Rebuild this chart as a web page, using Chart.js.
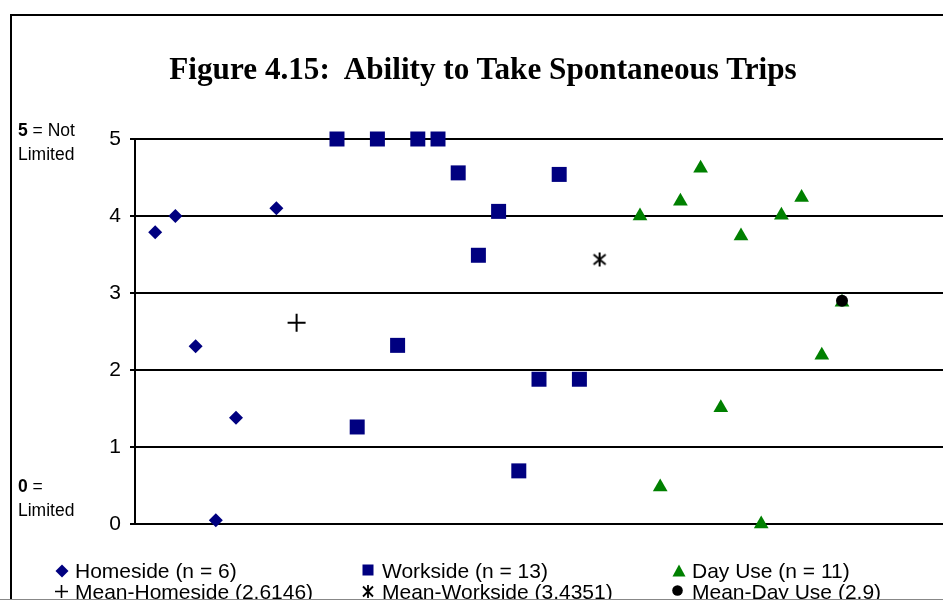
<!DOCTYPE html>
<html>
<head>
<meta charset="utf-8">
<script src="https://cdn.jsdelivr.net/npm/chart.js@4"></script>
<style>
  body { margin: 0; background: #fff; }
  #wrap { position: relative; width: 943px; height: 600px; overflow: hidden; font-family: "Liberation Sans", Arial, sans-serif; }
  #frame { position: absolute; left: 10px; top: 14px; width: 960px; height: 620px; border: 2px solid #000; box-sizing: border-box; }
  #bottomline { position: absolute; left: 0; top: 599px; width: 943px; height: 1px; background: #888; }
  #myChart { position: absolute; left: 0; top: 0; }
  #title { position: absolute; left: 0; width: 966px; top: 53px; line-height: 31px; text-align: center; font-family: "Liberation Serif", "Times New Roman", serif; font-weight: bold; font-size: 31.2px; white-space: pre; }
  .note { position: absolute; left: 18px; font-size: 17.5px; line-height: 24px; }
  .leg { position: absolute; font-size: 21px; line-height: 21px; white-space: nowrap; }
  .leg svg { position: absolute; left: 0; }
  .leg span { position: absolute; white-space: nowrap; }
</style>
</head>
<body>
<div id="wrap">
  <div id="frame"></div>
  <canvas id="myChart" width="943" height="600"></canvas>
  <div id="title">Figure 4.15:  Ability to Take Spontaneous Trips</div>
  <div class="note" style="top:118px"><b>5</b> = Not<br>Limited</div>
  <div class="note" style="top:474px"><b>0</b> =<br>Limited</div>
  <div id="legend"></div>
  <div id="bottomline"></div>
</div>
<script>
// x positions are respondent slots along the chart, y values are ratings 0-5
const homeX = [1, 2, 3, 4, 5, 7];
const homeY = [3.79, 4.0, 2.31, 0.05, 1.38, 4.1];
const meanHomeX = [8];
const meanHomeY = [2.6146];

const workX = [10, 11, 12, 13, 14, 15, 16, 17, 18, 19, 20, 21, 22];
const workY = [5, 1.26, 5, 2.32, 5, 5, 4.56, 3.49, 4.06, 0.69, 1.88, 4.54, 1.88];
const meanWorkX = [23];
const meanWorkY = [3.4351];

const dayX = [25, 26, 27, 28, 29, 30, 31, 32, 33, 34, 35];
const dayY = [4.0, 0.48, 4.19, 4.62, 1.51, 3.74, 0.0, 4.01, 4.24, 2.19, 2.88];
const meanDayX = [35];
const meanDayY = [2.9];

const yTicks = [0, 1, 2, 3, 4, 5];

const legendRows = [
    ['Homeside (n = 6)', 'Workside (n = 13)', 'Day Use (n = 11)'],
    ['Mean-Homeside (2.6146)', 'Mean-Workside (3.4351)', 'Mean-Day Use (2.9)']
];

function toPoints(xs, ys) {
    return xs.map((x, i) => ({ x: x, y: ys[i] }));
}

// asterisk marker: an X with a vertical stroke
function makeStar() {
    const c = document.createElement('canvas');
    c.width = 16; c.height = 16;
    const g = c.getContext('2d');
    g.strokeStyle = '#000';
    g.lineWidth = 2;
    g.beginPath();
    g.moveTo(2, 3); g.lineTo(14, 13);
    g.moveTo(14, 3); g.lineTo(2, 13);
    g.moveTo(8, 1); g.lineTo(8, 15);
    g.stroke();
    return c;
}

const navy = '#000080';
const green = '#008000';

const ctx = document.getElementById('myChart').getContext('2d');
const myChart = new Chart(ctx, {
    type: 'scatter',
    data: {
        datasets: [
            { label: legendRows[1][2], data: toPoints(meanDayX, meanDayY), pointStyle: 'circle', pointRadius: 6, backgroundColor: '#000', borderColor: '#000', borderWidth: 0, order: 0 },
            { label: legendRows[0][0], data: toPoints(homeX, homeY), pointStyle: 'rectRot', pointRadius: 7, backgroundColor: navy, borderColor: navy, borderWidth: 0, order: 1 },
            { label: legendRows[1][0], data: toPoints(meanHomeX, meanHomeY), pointStyle: 'cross', pointRadius: 9, borderColor: '#000', borderWidth: 2, order: 2 },
            { label: legendRows[0][1], data: toPoints(workX, workY), pointStyle: 'rect', pointRadius: 10.6, backgroundColor: navy, borderColor: navy, borderWidth: 0, order: 3 },
            { label: legendRows[1][1], data: toPoints(meanWorkX, meanWorkY), pointStyle: makeStar(), order: 4 },
            { label: legendRows[0][2], data: toPoints(dayX, dayY), pointStyle: 'triangle', pointRadius: 8.5, backgroundColor: green, borderColor: green, borderWidth: 0, order: 5 }
        ]
    },
    options: {
        responsive: false,
        animation: false,
        events: [],
        clip: false,
        layout: { autoPadding: false, padding: { left: 0, right: 0, top: 139, bottom: 76 } },
        scales: {
            x: {
                type: 'linear',
                display: false,
                min: 0,
                max: 40
            },
            y: {
                min: 0,
                max: 5,
                afterFit: (scale) => { scale.width = 135; },
                afterBuildTicks: (scale) => { scale.ticks = yTicks.map(v => ({ value: v })); },
                ticks: {
                    color: '#000',
                    padding: 9,
                    font: { family: 'Liberation Sans', size: 21 }
                },
                grid: {
                    color: '#000',
                    lineWidth: 2,
                    tickLength: 5,
                    tickColor: '#000',
                    tickWidth: 2
                },
                border: { display: true, color: '#000', width: 2 }
            }
        },
        plugins: {
            legend: { display: false },
            tooltip: { enabled: false }
        }
    }
});

// html legend laid out in three columns like the original
const markers = [
    ['<svg width="14" height="14" viewBox="0 0 14 14"><path d="M7 0.5 L13.5 7 L7 13.5 L0.5 7 Z" fill="' + navy + '"/></svg>',
     '<svg width="12" height="12" viewBox="0 0 12 12"><rect x="0.5" y="0.5" width="11" height="11" fill="' + navy + '"/></svg>',
     '<svg width="14" height="13" viewBox="0 0 14 13"><path d="M7 0.5 L13.5 12.5 L0.5 12.5 Z" fill="' + green + '"/></svg>'],
    ['<svg width="13" height="13" viewBox="0 0 13 13"><path d="M0 6.5 H13 M6.5 0 V13" stroke="#000" stroke-width="1.6"/></svg>',
     '<svg width="12" height="13" viewBox="0 0 12 13"><path d="M1 1.5 L11 11.5 M11 1.5 L1 11.5 M6 0 V13" stroke="#000" stroke-width="1.8"/></svg>',
     '<svg width="11" height="11" viewBox="0 0 11 11"><circle cx="5.5" cy="5.5" r="5.3" fill="#000"/></svg>']
];
const colX = [55, 362, 672];
const rowY = [560, 581];
let html = '';
legendRows.forEach((row, r) => {
    row.forEach((txt, c) => {
        html += '<div class="leg" style="left:' + colX[c] + 'px;top:' + rowY[r] + 'px">' +
            markers[r][c].replace('<svg', '<svg style="top:4px"') +
            '<span style="left:20px;top:0">' + txt + '</span></div>';
    });
});
document.getElementById('legend').innerHTML = html;
</script>
</body>
</html>
